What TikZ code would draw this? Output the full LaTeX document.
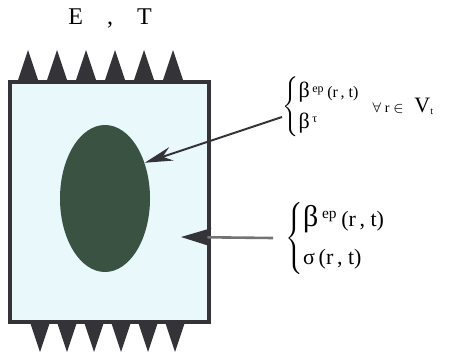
\documentclass[tikz,border=0pt]{standalone}
\usepackage{fontspec}
\setmainfont{Liberation Serif}
\usetikzlibrary{arrows.meta,shapes.geometric}

\definecolor{bodyfill}{HTML}{E8F8FB}
\definecolor{edgegray}{HTML}{333338}
\definecolor{inclgreen}{HTML}{3A5242}

\begin{document}
\begin{tikzpicture}[x=0.5pt,y=-0.5pt,
  load/.style={fill=edgegray},
  ptr/.style={draw=edgegray, line width=1pt, -{Stealth[length=14pt, width=7pt]}},
  ptrwide/.style={draw=black!55, line width=1.3pt, -{Stealth[length=15pt, width=9pt, inset=2pt, color=edgegray]}}]
\useasboundingbox (0,0) rectangle (464,353);
% loads on top and bottom faces
\foreach \x in {28,57,86,115,144,173}
  \fill[load] (\x-10,80) -- (\x,50) -- (\x+10,80) -- cycle;
\foreach \x in {40,67,94,121,148,175}
  \fill[load] (\x-10,322) -- (\x,352) -- (\x+10,322) -- cycle;
\node[draw=edgegray, line width=2pt, fill=bodyfill, minimum width=99.5pt, minimum height=120pt, inner sep=0] (body) at (109.5,202) {};
\node[ellipse, fill=inclgreen, minimum width=45pt, minimum height=73.5pt, inner sep=0] (incl) at (105,198.5) {};
\node[font=\fontsize{12}{14}\selectfont] (loadlbl) at (110,18) {E\hspace{12pt},\hspace{12pt}T};
% labels
\node[anchor=west, inner sep=0, font=\fontsize{8}{15}\selectfont] (lbl1) at (282,107)
  {$\left\{\begin{tabular}{@{}l@{}}{\fontsize{11}{11}\selectfont β}\,\textsuperscript{ep}\,(r\,, t)\\{\fontsize{11}{11}\selectfont β}\,\textsuperscript{τ}\end{tabular}\right.$};
\node[anchor=west, inner sep=0, font=\fontsize{7}{9}\selectfont] (range) at (372,106)
  {$\forall$ r $\in$ \enspace{\fontsize{11}{11}\selectfont V}\textsubscript{t}};
\node[anchor=west, inner sep=0, font=\fontsize{11}{19}\selectfont] (lbl2) at (285,238)
  {$\left\{\begin{tabular}{@{}l@{}}{\fontsize{15}{15}\selectfont β}\,\textsuperscript{ep}\,(r\,, t)\\σ\,(r\,, t)\end{tabular}\right.$};
\coordinate (tip2) at (181,237);
\draw[ptr] ([yshift=-5pt]lbl1.west) -- (incl.42);
\draw[ptrwide] ([xshift=-6pt]lbl2.west) -- (tip2);
\end{tikzpicture}
\end{document}
